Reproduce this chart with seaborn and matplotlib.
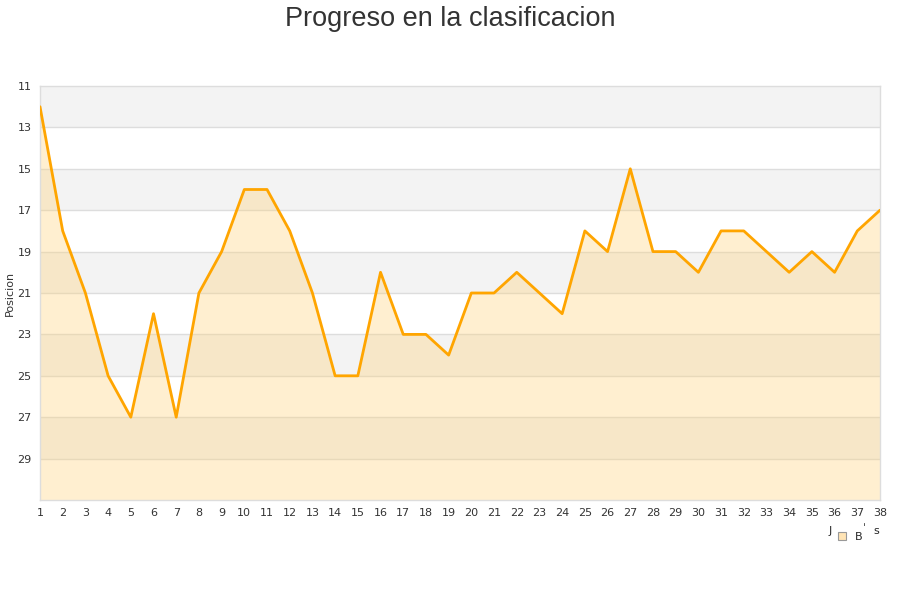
import pandas as pd
import matplotlib
matplotlib.use("Agg")
import matplotlib.pyplot as plt
from matplotlib.patches import Patch
import seaborn as sns

# Data: league position per matchday
jornadas = list(range(1, 39))
posiciones = [12, 18, 21, 25, 27, 22, 27, 21, 19, 16,
              16, 18, 21, 25, 25, 20, 23, 23, 24, 21,
              21, 20, 21, 22, 18, 19, 15, 19, 19, 20,
              18, 18, 19, 20, 19, 20, 18, 17]
y_ticks = [11, 13, 15, 17, 19, 21, 23, 25, 27, 29]

df = pd.DataFrame({"Jornada": jornadas, "Posicion": posiciones})

sns.set_style("white")
plt.rcParams['font.family'] = ['DejaVu Sans']

fig = plt.figure(figsize=(9, 6), dpi=100)
ax = fig.add_axes([40 / 900, 100 / 600, 840 / 900, 414 / 600])

# Alternating background bands
for lo in range(11, 31, 4):
    ax.axhspan(lo, lo + 2, color='#f3f3f3', zorder=0, lw=0)
for t in y_ticks[1:]:
    ax.axhline(t, color='#dddddd', lw=1, zorder=1)

# Area under the line
ax.fill_between(df["Jornada"], df["Posicion"], 31, color='#ffd27a', alpha=0.35,
                lw=0, zorder=2)
sns.lineplot(x="Jornada", y="Posicion", data=df, color='#ffa500', lw=2,
             ax=ax, zorder=3)

ax.set_xlim(1, 38)
ax.set_ylim(31, 11)
ax.set_xticks(jornadas)
ax.set_yticks(y_ticks)
ax.tick_params(axis='both', labelsize=8, colors='#333333', length=0, pad=6)
ax.set_xlabel("")
ax.set_ylabel("Posicion", fontsize=8, color='#333333', labelpad=2)
for s in ax.spines.values():
    s.set_color('#dddddd')
    s.set_linewidth(1)

fig.text(0.5, 0.99, "Progreso en la clasificacion", ha='center', va='top',
         fontsize=19.5, color='#333333', family=['Liberation Sans', 'DejaVu Sans'])

# Garbled legend at bottom right
leg = fig.legend(handles=[Patch(facecolor='#ffe4b5', edgecolor='#999999', lw=0.8)],
                 labels=["B"], loc='center left',
                 bbox_to_anchor=(838 / 900, 1 - 537 / 600),
                 bbox_transform=fig.transFigure, frameon=False, fontsize=8,
                 handlelength=0.7, handleheight=0.7, handletextpad=0.8,
                 borderpad=0, borderaxespad=0)
fig.text(830 / 900, 1 - 531 / 600, "J", fontsize=8, ha='center', va='center')
fig.text(864 / 900, 1 - 528 / 600, "\u02c8", fontsize=8, ha='center', va='center')
fig.text(876 / 900, 1 - 531 / 600, "s", fontsize=8, ha='center', va='center')

fig.savefig("out.png", dpi=100)
